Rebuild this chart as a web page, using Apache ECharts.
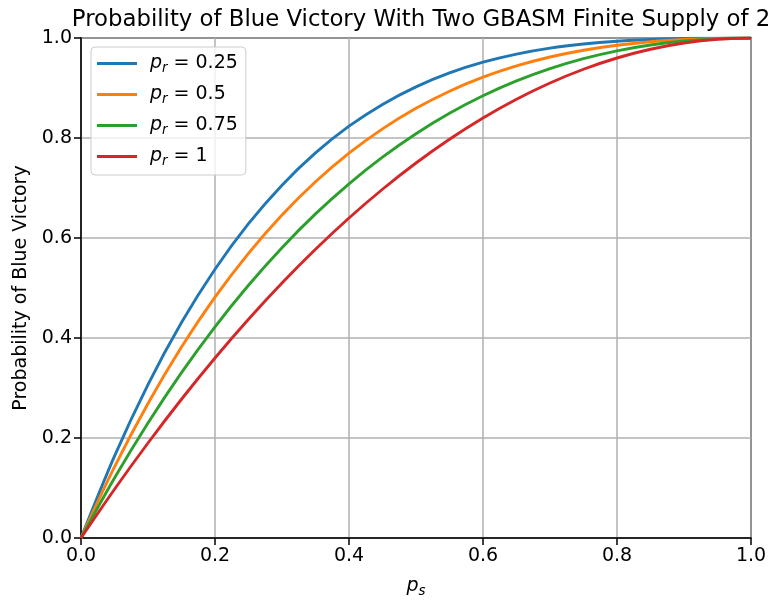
<!DOCTYPE html>
<html lang="en">

<head>
    <meta charset="UTF-8">
    <title>Probability of Blue Victory</title>
    <script src="https://cdn.jsdelivr.net/npm/echarts@6/dist/echarts.min.js"></script>
    <style>
        html, body { margin: 0; padding: 0; background: #fff; }
    </style>
</head>

<body>
    <div id="main" style="width: 769px;height:600px;"></div>
    <script>
        // p_s values along the x axis
        var ps = [0, 0.05, 0.1, 0.15, 0.2, 0.25, 0.3, 0.35, 0.4, 0.45, 0.5,
            0.55, 0.6, 0.65, 0.7, 0.75, 0.8, 0.85, 0.9, 0.95, 1];
        var seriesNames = ['0.25', '0.5', '0.75', '1'];
        var colors = ['#1f77b4', '#ff7f0e', '#2ca02c', '#d62728'];
        var pr025 = [0, 0.1639, 0.3069, 0.4309, 0.5376, 0.6287, 0.7057, 0.7702, 0.8236, 0.8672, 0.9023,
            0.9301, 0.9516, 0.9678, 0.9797, 0.9880, 0.9936, 0.9970, 0.9989, 0.9998, 1];
        var pr05 = [0, 0.1421, 0.2690, 0.3818, 0.4816, 0.5693, 0.6460, 0.7124, 0.7696, 0.8183, 0.8594,
            0.8936, 0.9216, 0.9442, 0.9620, 0.9756, 0.9856, 0.9926, 0.9970, 0.9993, 1];
        var pr075 = [0, 0.1199, 0.2300, 0.3307, 0.4224, 0.5056, 0.5807, 0.6482, 0.7084, 0.7617, 0.8086,
            0.8494, 0.8844, 0.9141, 0.9387, 0.9587, 0.9744, 0.9860, 0.9940, 0.9985, 1];
        var pr1 = [0, 0.0975, 0.19, 0.2775, 0.36, 0.4375, 0.51, 0.5775, 0.64, 0.6975, 0.75,
            0.7975, 0.84, 0.8775, 0.91, 0.9375, 0.96, 0.9775, 0.99, 0.9975, 1];
        var allValues = [pr025, pr05, pr075, pr1];
        var ticks = [0, 0.2, 0.4, 0.6, 0.8, 1.0];

        var font = 'DejaVu Sans';
        var fs = 19;

        function axisCommon() {
            return {
                type: 'value', min: 0, max: 1, interval: 0.2,
                axisLine: { show: true, lineStyle: { color: '#000', width: 1.5 } },
                axisTick: { show: true, inside: false, length: 7, lineStyle: { color: '#000', width: 1.5 } },
                axisLabel: {
                    color: '#000', fontSize: fs, fontFamily: font, margin: 9,
                    formatter: v => ticks.indexOf(+v.toFixed(1)) >= 0 ? v.toFixed(1) : ''
                },
                splitLine: { show: true, lineStyle: { color: '#b0b0b0', width: 1.5 } }
            };
        }

        var xAxis = axisCommon();
        xAxis.name = '{p|p}{s|s}';
        xAxis.nameLocation = 'middle';
        xAxis.nameGap = 36;
        xAxis.nameTextStyle = {
            rich: {
                p: { fontFamily: font, fontSize: fs, fontStyle: 'italic', color: '#000', lineHeight: 24 },
                s: { fontFamily: font, fontSize: 13.3, fontStyle: 'italic', color: '#000', lineHeight: 14, verticalAlign: 'bottom' }
            }
        };
        var yAxis = axisCommon();
        yAxis.name = 'Probability of Blue Victory';
        yAxis.nameLocation = 'middle';
        yAxis.nameGap = 50;
        yAxis.nameTextStyle = { fontFamily: font, fontSize: fs, color: '#000' };

        var myChart = echarts.init(document.getElementById('main'));
        var option = {
            animation: false,
            title: {
                text: 'Probability of Blue Victory With Two GBASM Finite Supply of 2',
                left: 416, textAlign: 'center', top: 4,
                textStyle: { fontFamily: font, fontSize: 22.8, fontWeight: 'normal', color: '#000' }
            },
            grid: {
                left: 81, right: 18, top: 38, bottom: 62, show: true, borderColor: '#000', borderWidth: 1.5,
                containLabel: false, outerBoundsMode: 'none'
            },
            legend: {
                orient: 'vertical', left: 91, top: 47,
                padding: [7, 8, 7, 6], itemGap: 10,
                itemWidth: 40, itemHeight: 3, icon: 'rect',
                backgroundColor: 'rgba(255,255,255,0.8)', borderColor: '#cccccc', borderWidth: 1, borderRadius: 4,
                formatter: name => '{p|p}{s|r}{t| = ' + name + '}',
                textStyle: {
                    rich: {
                        p: { fontFamily: font, fontSize: fs, fontStyle: 'italic', color: '#000', lineHeight: 23, padding: [0, 0, 0, 8] },
                        s: { fontFamily: font, fontSize: 13.3, fontStyle: 'italic', color: '#000', lineHeight: 14, verticalAlign: 'bottom' },
                        t: { fontFamily: font, fontSize: fs, color: '#000', lineHeight: 23 }
                    }
                }
            },
            xAxis: xAxis,
            yAxis: yAxis,
            series: seriesNames.map((n, k) => ({
                name: n,
                type: 'line',
                smooth: 0.3,
                symbol: 'none',
                color: colors[k],
                lineStyle: { width: 2.9, color: colors[k] },
                data: ps.map((x, i) => [x, allValues[k][i]])
            }))
        };
        option && myChart.setOption(option);
    </script>
</body>

</html>
